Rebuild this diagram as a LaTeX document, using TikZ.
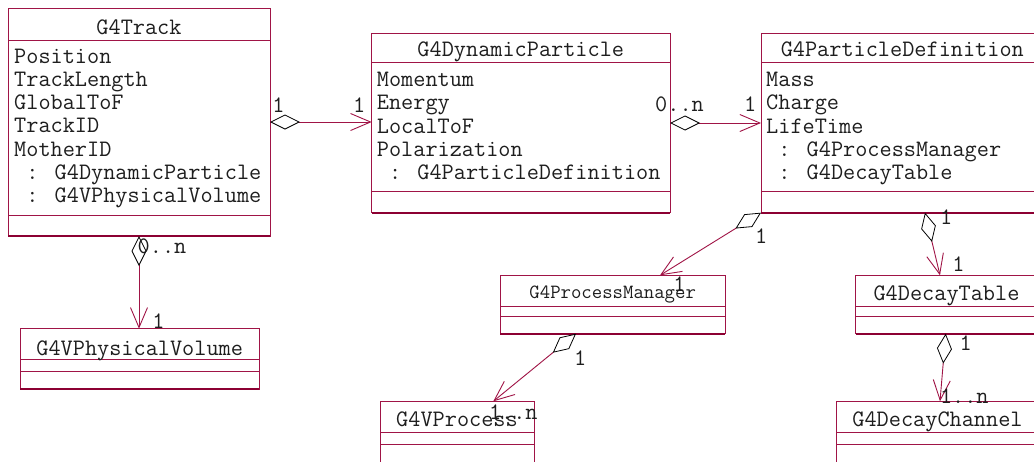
\documentclass[tikz,border=0pt]{standalone}
\usepackage{fontspec}
\usetikzlibrary{arrows.meta}
\definecolor{umlred}{RGB}{160,20,70}
\definecolor{umldark}{RGB}{140,0,50}
\definecolor{umltext}{RGB}{30,30,30}
\newcommand\ind{\hphantom{0}}
\tikzset{
  clsbox/.style={draw=umlred, line width=1pt, fill=white, inner sep=0pt, outer sep=0pt, anchor=north west},
  clssep/.style={draw=umlred, line width=0.9pt},
  clsbot/.style={draw=umldark, line width=2pt},
  txt/.style={font=\ttfamily\fontsize{23.6}{24}\selectfont, text=umltext, inner sep=0pt, anchor=base west},
  ttl/.style={txt, anchor=base},
  smallttl/.style={ttl, font=\ttfamily\fontsize{20.2}{21}\selectfont},
  agg/.style={draw=umlred, line width=0.9pt,
    {Diamond[length=30pt,width=15pt,color=black,fill=white,line width=0.8pt]}-{Straight Barb[length=20pt,width=17pt,line width=0.9pt]}},
}
\begin{document}
\begin{tikzpicture}[x=1pt,y=-1pt]
\useasboundingbox (0,0) rectangle (1034,461);
\clip (0,0) rectangle (1034,461);
\fill[white] (0,0) rectangle (1034,461);

% class boxes
\node[clsbox, minimum width=262pt, minimum height=228pt] (track) at (8,8) {};
\node[clsbox, minimum width=298.3pt, minimum height=179.4pt] (dp) at (371.7,33.3) {};
\node[clsbox, minimum width=283pt, minimum height=179.4pt] (pd) at (761,33.3) {};
\node[clsbox, minimum width=239.3pt, minimum height=60.3pt] (vpv) at (20,328.7) {};
\node[clsbox, minimum width=225.3pt, minimum height=58.4pt] (pm) at (500,275.3) {};
\node[clsbox, minimum width=154pt, minimum height=80pt] (vp) at (380,401.3) {};
\node[clsbox, minimum width=182pt, minimum height=58.4pt] (dt) at (855.7,275.3) {};
\node[clsbox, minimum width=204pt, minimum height=80pt] (dc) at (836,401.3) {};

% compartment separators and heavy bottom edges
\foreach \b/\s/\t in {track/32/207, dp/29.4/158.4, pd/29.4/158.4, vpv/30.6/43, pm/30.7/41, vp/31/43, dt/30.7/41, dc/31/43}{
  \draw[clssep] ([yshift=-\s pt]\b.north west) -- ([yshift=-\s pt]\b.north east);
  \draw[clssep] ([yshift=-\t pt]\b.north west) -- ([yshift=-\t pt]\b.north east);
  \draw[clsbot] (\b.south west) -- (\b.south east);
}

% titles
\node[ttl] (track-t) at (139,34.3) {G4Track};
\node[ttl] (dp-t) at (520.8,56.7) {G4DynamicParticle};
\node[ttl] (pd-t) at (902.3,56.7) {G4ParticleDefinition};
\node[ttl] (vpv-t) at (139.7,355) {G4VPhysicalVolume};
\node[smallttl] (pm-t) at (612.7,298.7) {G4ProcessManager};
\node[ttl] (vp-t) at (457,426.7) {G4VProcess};
\node[ttl] (dt-t) at (946.5,300) {G4DecayTable};
\node[ttl] (dc-t) at (937.5,426.7) {G4DecayChannel};

% attributes
\foreach \t [count=\i from 0] in {Position,TrackLength,GlobalToF,TrackID,MotherID,{\ind: G4DynamicParticle},{\ind: G4VPhysicalVolume}}
  \node[txt] (track-a\i) at (14,63.3+23.23*\i) {\t};
\foreach \t [count=\i from 0] in {Momentum,Energy,LocalToF,Polarization,{\ind: G4ParticleDefinition}}
  \node[txt] (dp-a\i) at (376.7,86.7+23.23*\i) {\t};
\foreach \t [count=\i from 0] in {Mass,Charge,LifeTime,{\ind: G4ProcessManager},{\ind: G4DecayTable}}
  \node[txt] (pd-a\i) at (766,86.7+23.23*\i) {\t};

% connectors
\draw[agg] (track.east) -- (track.east -| dp.west);
\draw[agg] (dp.east) -- (dp.east -| pd.west);
\draw[agg] (track.south) -- (track.south |- vpv.north);
\draw[agg] (pd.south west) -- ([xshift=160pt]pm.north west);
\draw[agg] ([xshift=164pt]pd.south west) -- ([xshift=84.3pt]dt.north west);
\draw[agg] ([xshift=76pt]pm.south west) -- ([xshift=113.3pt]vp.north west);
\draw[agg] ([xshift=90pt]dt.south west) -- ([xshift=104pt]dc.north west);

% multiplicities
\node[txt] (m1a) at (272.1,112.7) {1};
\node[txt] (m1b) at (352.8,112.7) {1};
\node[txt] (m2a) at (655,111) {0..n};
\node[txt] (m2b) at (743.8,111) {1};
\node[txt] (m3a) at (137.5,253.3) {0..n};
\node[txt] (m3b) at (152.1,328.3) {1};
\node[txt] (m4a) at (754.8,243.3) {1};
\node[txt] (m4b) at (673.1,291.7) {1};
\node[txt] (m5a) at (939.8,224) {1};
\node[txt] (m5b) at (952.1,271.7) {1};
\node[txt] (m6a) at (573.8,365) {1};
\node[txt] (m6b) at (488.8,419.3) {1..n};
\node[txt] (m7a) at (959.5,350) {1};
\node[txt] (m7b) at (939.8,403.3) {1..n};
\end{tikzpicture}
\end{document}
